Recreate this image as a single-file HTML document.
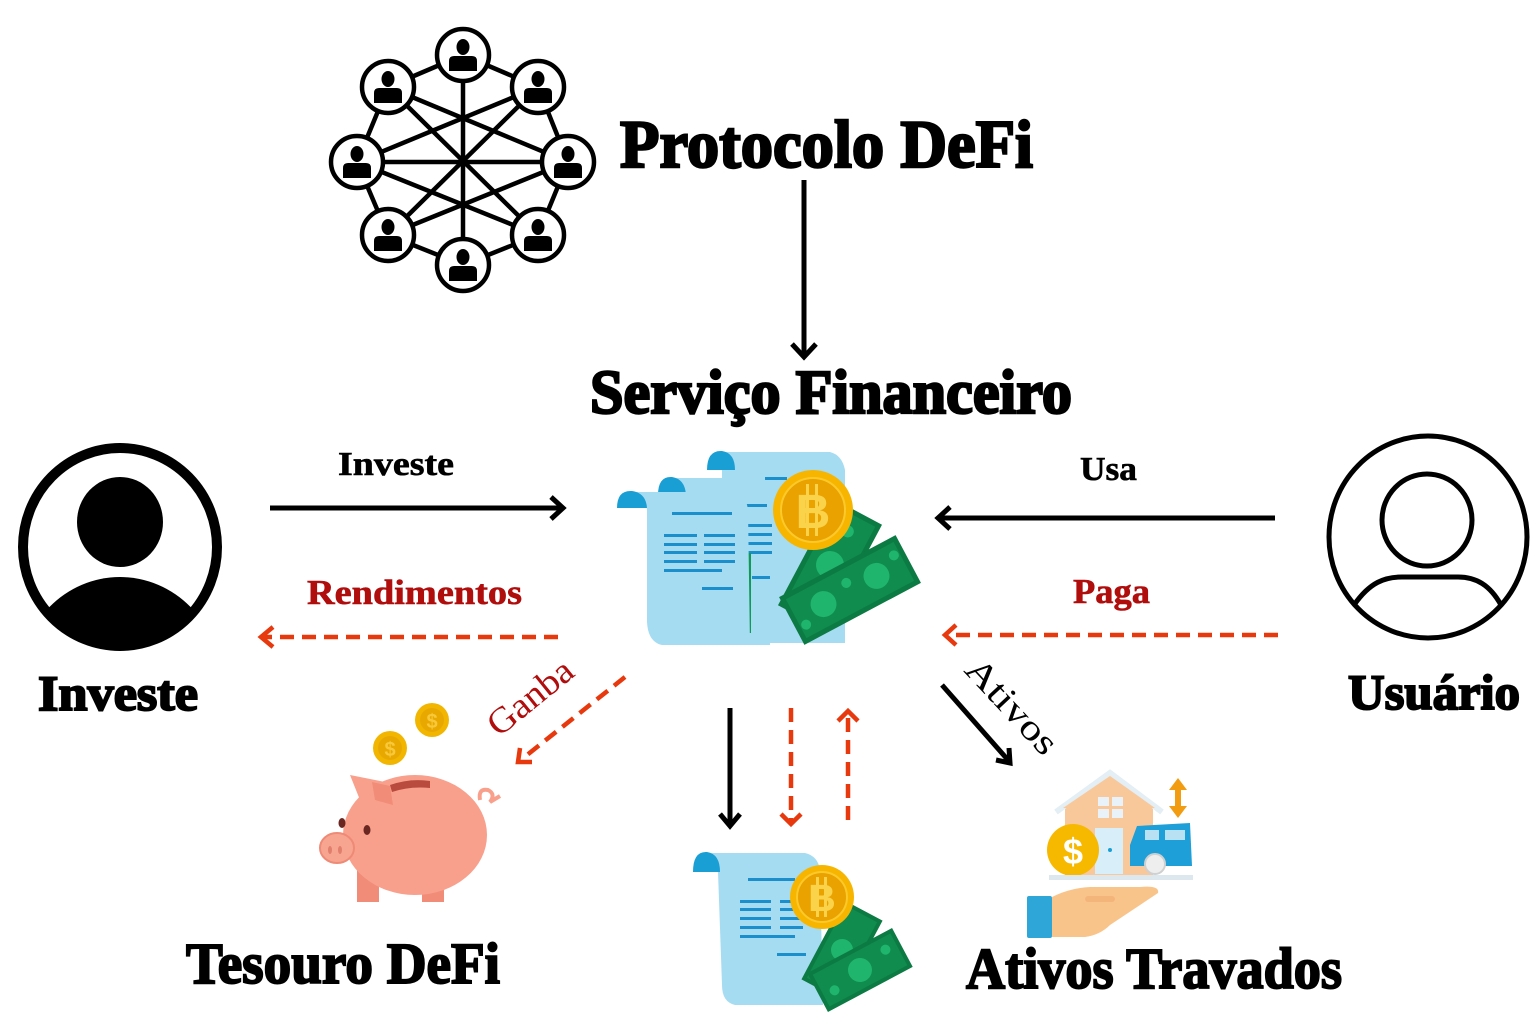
<!DOCTYPE html>
<html><head><meta charset="utf-8"><style>
html,body{margin:0;padding:0;background:#fff;}
svg{display:block;}
.t{font-family:"Liberation Serif",serif;font-weight:bold;}
</style></head><body>
<svg width="1536" height="1024" viewBox="0 0 1536 1024" xmlns="http://www.w3.org/2000/svg">
<defs>
<symbol id="pp" viewBox="-30 -30 60 60" overflow="visible">
<circle cx="0" cy="0" r="26" fill="#fff" stroke="#000" stroke-width="4.5"/>
<ellipse cx="0" cy="-8" rx="6.5" ry="8" fill="#000"/>
<path d="M-14 16 L-14 6 Q-14 1 -9 1 L9 1 Q14 1 14 6 L14 16 Z" fill="#000"/>
</symbol>
<clipPath id="lc"><ellipse cx="120" cy="547" rx="95" ry="97"/></clipPath>
<clipPath id="rc"><ellipse cx="1428" cy="537" rx="98" ry="100"/></clipPath>
</defs>
<rect width="1536" height="1024" fill="#fff"/>

<!-- network -->
<g stroke="#000" stroke-width="4.5" fill="none">
<polygon points="463,55 538,87 568,162 538,235 463,265 388,235 357,162 388,87"/>
<line x1="463" y1="55" x2="463" y2="265"/>
<line x1="357" y1="162" x2="568" y2="162"/>
<line x1="388" y1="87" x2="538" y2="235"/>
<line x1="538" y1="87" x2="388" y2="235"/>
<line x1="388" y1="87" x2="568" y2="162"/>
<line x1="538" y1="87" x2="357" y2="162"/>
<line x1="388" y1="235" x2="568" y2="162"/>
<line x1="538" y1="235" x2="357" y2="162"/>
</g>
<use href="#pp" x="433" y="25" width="60" height="60"/>
<use href="#pp" x="508" y="57" width="60" height="60"/>
<use href="#pp" x="538" y="132" width="60" height="60"/>
<use href="#pp" x="508" y="205" width="60" height="60"/>
<use href="#pp" x="433" y="235" width="60" height="60"/>
<use href="#pp" x="358" y="205" width="60" height="60"/>
<use href="#pp" x="327" y="132" width="60" height="60"/>
<use href="#pp" x="358" y="57" width="60" height="60"/>

<!-- titles -->
<text class="t" x="620" y="167" font-size="68" textLength="413" lengthAdjust="spacingAndGlyphs" stroke="#000" stroke-width="2.5">Protocolo DeFi</text>
<text class="t" x="590" y="413" font-size="62" textLength="482" lengthAdjust="spacingAndGlyphs" stroke="#000" stroke-width="2.5">Serviço Financeiro</text>
<text class="t" x="38" y="710" font-size="50" textLength="160" lengthAdjust="spacingAndGlyphs" stroke="#000" stroke-width="2">Investe</text>
<text class="t" x="1348" y="709" font-size="50" textLength="172" lengthAdjust="spacingAndGlyphs" stroke="#000" stroke-width="2">Usuário</text>
<text class="t" x="186" y="983" font-size="58" textLength="314" lengthAdjust="spacingAndGlyphs" stroke="#000" stroke-width="2">Tesouro DeFi</text>
<text class="t" x="966" y="988" font-size="58" textLength="376" lengthAdjust="spacingAndGlyphs" stroke="#000" stroke-width="2">Ativos Travados</text>

<!-- labels -->
<text class="t" x="338" y="475" font-size="34" textLength="116" lengthAdjust="spacingAndGlyphs" stroke="#000" stroke-width="0.6">Investe</text>
<text class="t" x="307" y="604" font-size="35" textLength="215" lengthAdjust="spacingAndGlyphs" fill="#b00d0d" stroke="#b00d0d" stroke-width="0.6">Rendimentos</text>
<text class="t" x="1080" y="480" font-size="34" textLength="57" lengthAdjust="spacingAndGlyphs" stroke="#000" stroke-width="0.6">Usa</text>
<text class="t" x="1073" y="603" font-size="35" textLength="77" lengthAdjust="spacingAndGlyphs" fill="#b00d0d" stroke="#b00d0d" stroke-width="0.6">Paga</text>
<g transform="translate(530,697) rotate(-39)"><text class="t" x="0" y="12" font-size="36" text-anchor="middle" textLength="100" lengthAdjust="spacingAndGlyphs" fill="#b00d0d" style="font-weight:normal">Ganba</text></g>
<g transform="translate(1012,706) rotate(47)"><text class="t" x="0" y="12" font-size="36" text-anchor="middle" textLength="118" lengthAdjust="spacingAndGlyphs" fill="#000" style="font-weight:normal">Ativos</text></g>

<!-- arrows -->
<g stroke="#000" stroke-width="5" fill="none" stroke-linecap="butt">
<line x1="804" y1="180" x2="804" y2="356"/>
<polyline points="792,344 804,357 816,344" stroke-linejoin="miter"/>
<line x1="270" y1="508" x2="561" y2="508"/>
<polyline points="551,497 563,508 551,519"/>
<line x1="1275" y1="518" x2="940" y2="518"/>
<polyline points="950,507 938,518 950,529"/>
<line x1="730" y1="708" x2="730" y2="824"/>
<polyline points="720,814 730,826 740,814"/>
<line x1="942" y1="685" x2="1008" y2="760"/>
<polyline points="996,760 1010,763 1009,748"/>
</g>
<g stroke="#e8380d" stroke-width="4.5" fill="none">
<line x1="558" y1="637" x2="264" y2="637" stroke-dasharray="14 8"/>
<polyline points="273,627 261,637 273,647"/>
<line x1="1278" y1="635" x2="947" y2="635" stroke-dasharray="14 8"/>
<polyline points="956,625 945,635 956,645"/>
<line x1="625" y1="677" x2="522" y2="759" stroke-dasharray="14 8"/>
<polyline points="520,748 518,762 532,762"/>
<line x1="791" y1="708" x2="791" y2="822" stroke-dasharray="14 8"/>
<polyline points="781,814 791,824 801,814"/>
<line x1="848" y1="820" x2="848" y2="714" stroke-dasharray="14 8"/>
<polyline points="838,721 848,711 858,721"/>
</g>

<!-- left person -->
<ellipse cx="120" cy="547" rx="97" ry="99" fill="#fff" stroke="#000" stroke-width="10"/>
<ellipse cx="120" cy="522" rx="43" ry="45" fill="#000"/>
<ellipse cx="120" cy="680" rx="100" ry="103" fill="#000" clip-path="url(#lc)"/>

<!-- right person -->
<ellipse cx="1428" cy="537" rx="99" ry="101" fill="#fff" stroke="#000" stroke-width="5"/>
<ellipse cx="1427" cy="520" rx="45" ry="46" fill="none" stroke="#000" stroke-width="5"/>
<path d="M1354 605 C1370 582 1385 577 1402 577 L1458 577 C1476 577 1490 585 1501 605" fill="none" stroke="#000" stroke-width="5"/>

<!-- central icon -->
<g>
<!-- back paper -->
<path d="M720 452 L830 452 Q842 455 845 470 L845 643 L735 643 Q722 640 722 620 L722 470 Q720 456 712 455 Z" fill="#a6dcf2"/>
<path d="M707 470 Q707 450 722 451 Q735 453 735 470 Z" fill="#1a9fd5"/>
<rect x="765" y="477" width="22" height="3" fill="#1a8fcc"/>
<!-- middle paper -->
<path d="M670 478 L765 478 L770 645 L690 645 Q676 642 676 625 L676 495 Q674 480 665 479 Z" fill="#a6dcf2"/>
<path d="M658 495 Q658 476 672 477 Q685 479 686 495 Z" fill="#1a9fd5"/>
<g fill="#1a8fcc">
<rect x="745" y="504" width="22" height="3"/>
<rect x="747" y="524" width="25" height="3"/><rect x="747" y="533" width="25" height="3"/>
<rect x="747" y="542" width="25" height="3"/><rect x="747" y="551" width="25" height="3"/>
<rect x="752" y="576" width="18" height="3"/>
</g>
<rect x="747" y="553" width="4" height="80" fill="#0f9a55"/>
<!-- front paper -->
<path d="M630 492 L735 492 Q746 494 748 510 L750 645 L662 645 Q648 642 647 622 L647 510 Q645 494 630 493 Z" fill="#a6dcf2"/>
<path d="M617 508 Q617 490 632 491 Q646 493 647 508 Z" fill="#1a9fd5"/>
<g fill="#1a8fcc">
<rect x="672" y="512" width="60" height="3"/>
<rect x="664" y="534" width="33" height="3"/><rect x="704" y="534" width="31" height="3"/>
<rect x="664" y="543" width="33" height="3"/><rect x="704" y="543" width="31" height="3"/>
<rect x="664" y="551" width="33" height="3"/><rect x="704" y="551" width="31" height="3"/>
<rect x="664" y="560" width="33" height="3"/><rect x="704" y="560" width="31" height="3"/>
<rect x="664" y="569" width="58" height="3"/>
<rect x="702" y="587" width="31" height="3"/>
</g>
<!-- bills -->
<g transform="translate(830,565) rotate(-62)">
<rect x="-60" y="-27" width="120" height="54" fill="#0c7a43"/>
<rect x="-55" y="-22" width="110" height="44" fill="#0f8c4e"/>
<circle cx="0" cy="0" r="14" fill="#1fb56d"/><circle cx="-38" cy="0" r="6" fill="#1fb56d"/><circle cx="38" cy="0" r="6" fill="#1fb56d"/>
</g>
<g transform="translate(850,590) rotate(-28)">
<rect x="-66" y="-27" width="132" height="54" fill="#0c7a43"/>
<rect x="-61" y="-22" width="122" height="44" fill="#0f8c4e"/>
<circle cx="-30" cy="0" r="13" fill="#1fb56d"/><circle cx="30" cy="0" r="13" fill="#1fb56d"/>
<circle cx="-55" cy="10" r="5" fill="#1fb56d"/><circle cx="0" cy="-8" r="5" fill="#1fb56d"/><circle cx="55" cy="-10" r="5" fill="#1fb56d"/>
</g>
<!-- coin -->
<circle cx="813" cy="510" r="40" fill="#f7b500"/>
<circle cx="813" cy="510" r="32" fill="#eaa200" stroke="#fbc92a" stroke-width="2"/>
<rect x="806" y="484" width="3" height="52" fill="#fbd34a"/><rect x="815" y="484" width="3" height="52" fill="#fbd34a"/>
<text x="813" y="528" font-family="Liberation Sans,sans-serif" font-weight="bold" font-size="48" text-anchor="middle" fill="#fbd34a">B</text>
</g>

<!-- bottom icon -->
<g>
<path d="M705 853 L805 853 Q818 856 820 870 L823 1005 L735 1005 Q722 1002 722 985 L718 872 Q716 856 705 854 Z" fill="#a6dcf2"/>
<path d="M693 872 Q693 851 707 852 Q720 854 720 872 Z" fill="#1a9fd5"/>
<g fill="#1a8fcc">
<rect x="748" y="878" width="47" height="3"/>
<rect x="740" y="900" width="31" height="3"/><rect x="780" y="900" width="23" height="3"/>
<rect x="740" y="908" width="31" height="3"/><rect x="780" y="908" width="23" height="3"/>
<rect x="740" y="917" width="31" height="3"/><rect x="780" y="917" width="23" height="3"/>
<rect x="740" y="926" width="31" height="3"/><rect x="780" y="926" width="23" height="3"/>
<rect x="740" y="935" width="55" height="3"/>
<rect x="777" y="953" width="29" height="3"/>
</g>
<g transform="translate(842,950) rotate(-62)">
<rect x="-45" y="-22" width="90" height="44" fill="#0c7a43"/>
<rect x="-41" y="-18" width="82" height="36" fill="#0f8c4e"/>
<circle cx="0" cy="0" r="11" fill="#1fb56d"/>
</g>
<g transform="translate(860,970) rotate(-28)">
<rect x="-48" y="-22" width="96" height="44" fill="#0c7a43"/>
<rect x="-44" y="-18" width="88" height="36" fill="#0f8c4e"/>
<circle cx="0" cy="0" r="12" fill="#1fb56d"/><circle cx="-32" cy="6" r="5" fill="#1fb56d"/><circle cx="32" cy="-6" r="5" fill="#1fb56d"/>
</g>
<circle cx="822" cy="897" r="32" fill="#f7b500"/>
<circle cx="822" cy="897" r="25" fill="#eaa200" stroke="#fbc92a" stroke-width="2"/>
<rect x="816" y="877" width="3" height="40" fill="#fbd34a"/><rect x="824" y="877" width="3" height="40" fill="#fbd34a"/>
<text x="822" y="911" font-family="Liberation Sans,sans-serif" font-weight="bold" font-size="38" text-anchor="middle" fill="#fbd34a">B</text>
</g>

<!-- piggy bank -->
<g>
<circle cx="432" cy="720" r="17" fill="#f2b600"/><circle cx="432" cy="720" r="12" fill="#e9a800"/>
<text x="432" y="728" font-family="Liberation Sans,sans-serif" font-weight="bold" font-size="20" text-anchor="middle" fill="#f7c93a">$</text>
<circle cx="390" cy="748" r="17" fill="#f2b600"/><circle cx="390" cy="748" r="12" fill="#e9a800"/>
<text x="390" y="756" font-family="Liberation Sans,sans-serif" font-weight="bold" font-size="20" text-anchor="middle" fill="#f7c93a">$</text>
<rect x="357" y="870" width="22" height="32" fill="#f08c78"/>
<rect x="422" y="870" width="22" height="32" fill="#f08c78"/>
<path d="M480 800 Q478 788 488 790 Q496 794 490 802 L500 796" fill="none" stroke="#f8a08c" stroke-width="4"/>
<ellipse cx="415" cy="835" rx="72" ry="60" fill="#f8a08c"/>
<path d="M350 775 L385 782 L395 808 L360 800 Z" fill="#f8a08c"/>
<path d="M372 782 L390 786 L393 805 L375 800 Z" fill="#f08c78"/>
<ellipse cx="337" cy="848" rx="17" ry="15" fill="#f7a590" stroke="#ee8a76" stroke-width="2"/>
<ellipse cx="330" cy="850" rx="2" ry="4" fill="#e07f6c"/><ellipse cx="340" cy="850" rx="2" ry="4" fill="#e07f6c"/>
<ellipse cx="342" cy="823" rx="3.5" ry="5" fill="#6a2620"/>
<ellipse cx="367" cy="830" rx="3.5" ry="5" fill="#6a2620"/>
<path d="M390 785 Q410 778 430 781 L430 788 Q410 786 392 792 Z" fill="#b84a3e"/>
</g>

<!-- Ativos travados icon -->
<g>
<rect x="1065" y="805" width="88" height="70" fill="#f8c89a"/>
<path d="M1056 812 L1110 773 L1162 812" fill="none" stroke="#e3eef5" stroke-width="6"/>
<path d="M1063 808 L1110 776 L1155 808 Z" fill="#f8c89a"/>
<g fill="#e8f2f8"><rect x="1098" y="797" width="11" height="9"/><rect x="1112" y="797" width="11" height="9"/><rect x="1098" y="809" width="11" height="9"/><rect x="1112" y="809" width="11" height="9"/></g>
<rect x="1095" y="828" width="28" height="46" fill="#d8eef8"/>
<circle cx="1110" cy="850" r="2" fill="#1a9fd5"/>
<path d="M1130 845 L1137 826 L1190 823 L1192 866 L1130 866 Z" fill="#1e9fd8"/>
<rect x="1145" y="830" width="14" height="10" fill="#b8e2f4"/><rect x="1165" y="830" width="20" height="10" fill="#b8e2f4"/>
<circle cx="1155" cy="864" r="10" fill="#eeeeee" stroke="#d0d0d0" stroke-width="2"/>
<circle cx="1073" cy="850" r="26" fill="#f7b800"/>
<text x="1073" y="864" font-family="Liberation Sans,sans-serif" font-weight="bold" font-size="36" text-anchor="middle" fill="#fff">$</text>
<rect x="1049" y="875" width="144" height="5" fill="#dde8ee"/>
<path d="M1178 778 L1169 790 L1175 790 L1175 806 L1169 806 L1178 818 L1187 806 L1181 806 L1181 790 L1187 790 Z" fill="#f29c12"/>
<path d="M1052 897 Q1070 888 1090 887 L1140 887 Q1160 885 1158 893 L1110 925 Q1100 935 1085 937 L1052 937 Z" fill="#f9c48a"/>
<rect x="1085" y="896" width="30" height="6" rx="3" fill="#f3b57a"/>
<rect x="1027" y="896" width="25" height="42" rx="2" fill="#2ea6d8"/>
</g>
</svg>
</body></html>
